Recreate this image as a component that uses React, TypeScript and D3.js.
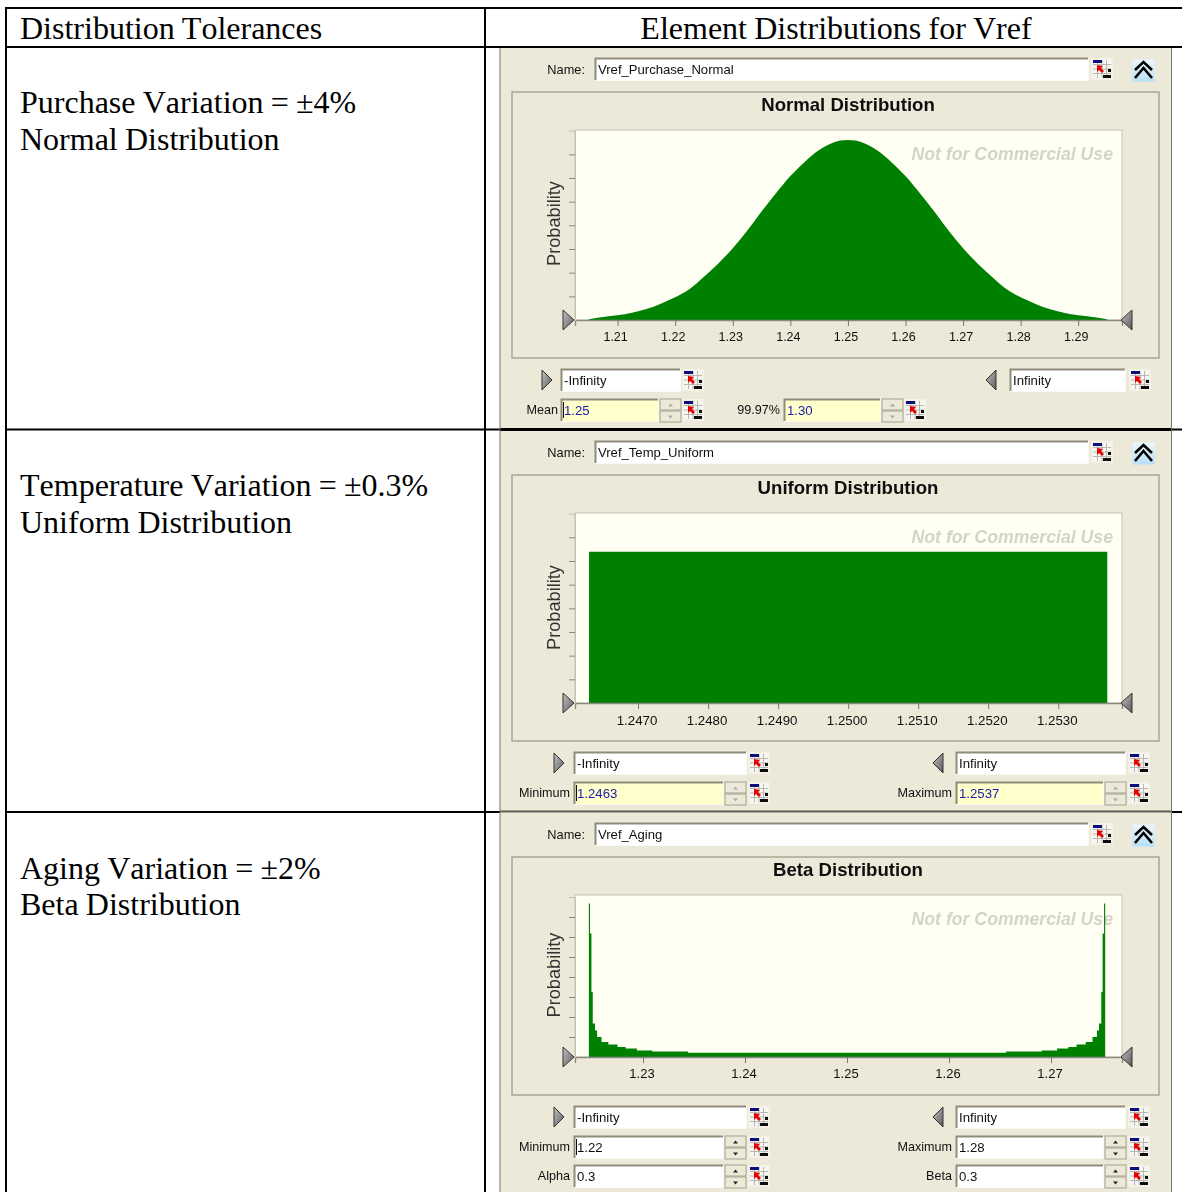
import React, { useEffect, useRef } from 'react';
import * as d3 from 'd3';

// Values. y is in units of the (unlabelled) probability ticks.
const normalX = [1.205, 1.2075, 1.21, 1.2125, 1.215, 1.2175, 1.22, 1.2225, 1.225, 1.2275, 1.23, 1.2325, 1.235, 1.2375, 1.24, 1.2425, 1.245, 1.2475, 1.25, 1.2525, 1.255, 1.2575, 1.26, 1.2625, 1.265, 1.2675, 1.27, 1.2725, 1.275, 1.2775, 1.28, 1.2825, 1.285, 1.2875, 1.29, 1.2925, 1.295];
const normalY = [0.03, 0.13, 0.2, 0.31, 0.46, 0.69, 0.96, 1.31, 1.83, 2.39, 3.03, 3.77, 4.58, 5.35, 6.08, 6.68, 7.18, 7.5, 7.6, 7.5, 7.18, 6.68, 6.08, 5.35, 4.58, 3.77, 3.03, 2.39, 1.83, 1.31, 0.96, 0.69, 0.46, 0.31, 0.2, 0.13, 0.03];
const uniformX = [1.2463, 1.2537];
const uniformY = [6.39, 6.39];
const betaX = [1.22469, 1.2248, 1.22494, 1.22507, 1.22529, 1.2255, 1.22593, 1.2266, 1.2275, 1.2283, 1.2294, 1.2309, 1.2344, 1.2656, 1.2691, 1.2706, 1.2717, 1.2725, 1.2734, 1.27407, 1.2745, 1.27471, 1.27493, 1.27506, 1.2752, 1.27531];
const betaY = [7.67, 6.17, 3.25, 1.67, 1.33, 1.0, 0.75, 0.62, 0.5, 0.42, 0.33, 0.28, 0.21, 0.28, 0.33, 0.42, 0.5, 0.62, 0.75, 1.0, 1.33, 1.67, 3.25, 6.17, 7.67, 7.67];

const normalTicks = [1.21, 1.22, 1.23, 1.24, 1.25, 1.26, 1.27, 1.28, 1.29];
const uniformTicks = [1.247, 1.248, 1.249, 1.25, 1.251, 1.252, 1.253];
const betaTicks = [1.23, 1.24, 1.25, 1.26, 1.27];
const probTicks = [1, 2, 3, 4, 5, 6, 7];

const leftLabels = [
  ['Purchase Variation = ±4%', 'Normal Distribution'],
  ['Temperature Variation = ±0.3%', 'Uniform Distribution'],
  ['Aging Variation = ±2%', 'Beta Distribution'],
];

const SANS = '"Liberation Sans", Arial, sans-serif';
const SERIF = '"Liberation Serif", "Times New Roman", serif';
const PANEL = '#ece9d8';
const GREEN = '#008000';

type Field = { label?: string; labelX?: number; text: string; x: number; w: number; y: number; yellow?: boolean; spin?: boolean; caret?: boolean; icon: number; arrow?: 'l' | 'r'; arrowX?: number };

const panels = [
  {
    top: 48, bottom: 428, name: 'Vref_Purchase_Normal', title: 'Normal Distribution', nameTop: 58,
    group: [92, 358], plot: [130, 320], titleY: 104, tickY: 337, unit: 23.67, probY: 223.5,
    xs: normalX, ys: normalY, ticks: normalTicks, fmt: '.2f', curve: d3.curveMonotoneX,
    tickFont: 12.5, tickDx: -2.5,
    domain: [1.2026, 1.2976],
    fields: [
      { text: '-Infinity', x: 561, w: 119, y: 369, icon: 682, arrow: 'r', arrowX: 542 },
      { text: 'Infinity', x: 1010, w: 115, y: 369, icon: 1129, arrow: 'l', arrowX: 986 },
      { label: 'Mean', labelX: 558, text: '1.25', x: 561, w: 97, y: 399, yellow: true, spin: true, caret: true, icon: 682 },
      { label: '99.97%', labelX: 780, text: '1.30', x: 784, w: 96, y: 399, yellow: true, spin: true, icon: 904 },
    ] as Field[],
  },
  {
    top: 431, bottom: 811, name: 'Vref_Temp_Uniform', title: 'Uniform Distribution', nameTop: 441,
    group: [475, 741], plot: [513, 703], titleY: 487, tickY: 720, unit: 23.67, probY: 607.5,
    xs: uniformX, ys: uniformY, ticks: uniformTicks, fmt: '.4f', curve: d3.curveLinear,
    tickFont: 13.3, tickDx: -1.5,
    domain: [1.2461, 1.25391],
    fields: [
      { text: '-Infinity', x: 574, w: 172, y: 752, icon: 748, arrow: 'r', arrowX: 554 },
      { text: 'Infinity', x: 956, w: 169, y: 752, icon: 1128, arrow: 'l', arrowX: 933 },
      { label: 'Minimum', labelX: 570, text: '1.2463', x: 574, w: 149, y: 782, yellow: true, spin: true, caret: true, icon: 748 },
      { label: 'Maximum', labelX: 952, text: '1.2537', x: 956, w: 147, y: 782, yellow: true, spin: true, icon: 1128 },
    ] as Field[],
  },
  {
    top: 813, bottom: 1192, name: 'Vref_Aging', title: 'Beta Distribution', nameTop: 823,
    group: [857, 1095], plot: [895, 1057], titleY: 869, tickY: 1073, unit: 20, probY: 975,
    xs: betaX, ys: betaY, ticks: betaTicks, fmt: '.2f', curve: d3.curveStepAfter,
    tickFont: 13, tickDx: -1.5,
    domain: [1.22333, 1.27696],
    fields: [
      { text: '-Infinity', x: 574, w: 172, y: 1106, icon: 748, arrow: 'r', arrowX: 554 },
      { text: 'Infinity', x: 956, w: 169, y: 1106, icon: 1128, arrow: 'l', arrowX: 933 },
      { label: 'Minimum', labelX: 570, text: '1.22', x: 574, w: 149, y: 1136, spin: true, caret: true, icon: 748 },
      { label: 'Maximum', labelX: 952, text: '1.28', x: 956, w: 147, y: 1136, spin: true, icon: 1128 },
      { label: 'Alpha', labelX: 570, text: '0.3', x: 574, w: 149, y: 1165, spin: true, icon: 748 },
      { label: 'Beta', labelX: 952, text: '0.3', x: 956, w: 147, y: 1165, spin: true, icon: 1128 },
    ] as Field[],
  },
];

type Sel = d3.Selection<SVGGElement, unknown, null, undefined>;

function sunken(g: Sel, x: number, y: number, w: number, h: number, fill: string) {
  g.append('rect').attr('x', x).attr('y', y).attr('width', w).attr('height', h).attr('fill', fill);
  g.append('path')
    .attr('d', `M${x + 0.5},${y + h}V${y + 0.5}H${x + w}`)
    .attr('fill', 'none').attr('stroke', '#8f8c7c').attr('stroke-width', 2);
  g.append('path')
    .attr('d', `M${x},${y + h + 0.5}H${x + w + 0.5}V${y}`)
    .attr('fill', 'none').attr('stroke', '#fbfaf4');
}

function linkIcon(g: Sel, x: number, y: number) {
  g.append('rect').attr('x', x).attr('y', y).attr('width', 22).attr('height', 22).attr('fill', '#f4f2e8');
  const ix = x + 2;
  const iy = y + 2;
  g.append('rect').attr('x', ix).attr('y', iy).attr('width', 18).attr('height', 18).attr('fill', '#f6f6f2');
  // little spreadsheet grid behind the arrow
  d3.range(1, 4).forEach((i) => {
    g.append('line').attr('x1', ix).attr('x2', ix + 18).attr('y1', iy + i * 4.5).attr('y2', iy + i * 4.5).attr('stroke', '#b8b8b0');
    g.append('line').attr('y1', iy).attr('y2', iy + 18).attr('x1', ix + i * 4.5).attr('x2', ix + i * 4.5).attr('stroke', '#b8b8b0');
  });
  g.append('rect').attr('x', ix).attr('y', iy).attr('width', 9).attr('height', 3).attr('fill', '#10107a');
  g.append('rect').attr('x', ix + 10).attr('y', iy + 15).attr('width', 8).attr('height', 3).attr('fill', '#111');
  g.append('rect').attr('x', ix + 15).attr('y', iy + 9).attr('width', 3).attr('height', 3).attr('fill', '#111');
  g.append('path').attr('d', `M${ix + 4},${iy + 5}l6,1l-2,2l3,3l-2,2l-3,-3l-2,2z`).attr('fill', '#e80000');
}

function spinner(g: Sel, x: number, y: number, enabled: boolean) {
  [0, 12].forEach((dy) => {
    g.append('rect').attr('x', x).attr('y', y + dy).attr('width', 21).attr('height', 11)
      .attr('fill', PANEL).attr('stroke', '#a5a28f');
    const a = y + dy + 5.5;
    g.append('path')
      .attr('d', dy === 0 ? `M${x + 8},${a + 2}h5l-2.5,-3z` : `M${x + 8},${a - 1}h5l-2.5,3z`)
      .attr('fill', enabled ? '#222' : '#aaa');
  });
}

function triangle(g: Sel, dir: 'l' | 'r', x: number, cy: number, w: number, h: number) {
  const tip = dir === 'r' ? x + w : x;
  const base = dir === 'r' ? x : x + w;
  g.append('path')
    .attr('d', `M${base},${cy - h / 2}L${tip},${cy}L${base},${cy + h / 2}Z`)
    .attr('fill', 'url(#tri)').attr('stroke', '#333').attr('stroke-width', 1);
}

function label(g: Sel, x: number, y: number, t: string, size: number, anchor = 'start', fill = '#111', weight = 'normal') {
  return g.append('text').attr('x', x).attr('y', y).attr('text-anchor', anchor)
    .attr('dominant-baseline', 'central').attr('font-family', SANS).attr('font-size', size)
    .attr('font-weight', weight).attr('fill', fill).text(t);
}

function drawPanel(g: Sel, p: (typeof panels)[number]) {
  g.append('rect').attr('x', 500).attr('y', p.top).attr('width', 671).attr('height', p.bottom - p.top).attr('fill', PANEL);

  // name row
  label(g, 585, p.nameTop + 11, 'Name:', 12.8, 'end');
  sunken(g, 595, p.nameTop, 493, 22, '#fff');
  label(g, 598, p.nameTop + 11, p.name, 13.1);
  linkIcon(g, 1091, p.nameTop);
  g.append('rect').attr('x', 1132).attr('y', p.nameTop + 1).attr('width', 23).attr('height', 23)
    .attr('fill', 'url(#btn)').attr('stroke', '#e8e8e0');
  const top = p.nameTop;
  g.append('path')
    .attr('d', `M1135,${top + 12}L1143.5,${top + 4}L1152,${top + 12}M1135,${top + 20}L1143.5,${top + 10}L1152,${top + 20}`)
    .attr('fill', 'none').attr('stroke', '#000').attr('stroke-width', 2.6);

  // group box and title
  g.append('rect').attr('x', 512).attr('y', p.group[0]).attr('width', 647).attr('height', p.group[1] - p.group[0])
    .attr('fill', 'none').attr('stroke', '#a5a28f').attr('stroke-width', 1.4);
  label(g, 848, p.titleY, p.title, 18.6, 'middle', '#111', 'bold');

  // chart
  const [plotTop, plotBottom] = p.plot;
  const x = d3.scaleLinear().domain(p.domain).range([575, 1122]);
  const y = d3.scaleLinear().domain([0, 8]).range([plotBottom, plotBottom - 8 * p.unit]);
  g.append('rect').attr('x', 575).attr('y', plotTop).attr('width', 547).attr('height', plotBottom - plotTop)
    .attr('fill', '#fffff3').attr('stroke', '#c4c2b2');

  label(g, 1113, plotTop + 24, 'Not for Commercial Use', 17.7, 'end', '#d4d4ca', 'bold').attr('font-style', 'italic');

  const points = d3.range(p.xs.length);
  const area = d3.area<number>().x((i) => x(p.xs[i])).y0(y(0)).y1((i) => y(p.ys[i])).curve(p.curve);
  g.append('path').attr('d', area(points)).attr('fill', GREEN);

  const xAxis = g.append('g').attr('transform', `translate(0,${plotBottom})`)
    .call(d3.axisBottom(x).tickValues(p.ticks).tickSize(6).tickFormat(d3.format(p.fmt) as any));
  xAxis.select('.domain').attr('stroke', '#8a8a80').attr('stroke-width', 1.4);
  xAxis.selectAll('.tick line').attr('stroke', '#77776e');
  xAxis.selectAll('.tick text')
    .attr('y', p.tickY - plotBottom).attr('dy', 0).attr('dx', p.tickDx).attr('dominant-baseline', 'central')
    .attr('font-family', SANS).attr('font-size', p.tickFont).attr('fill', '#111');

  const yAxis = g.append('g').attr('transform', 'translate(575,0)')
    .call(d3.axisLeft(y).tickValues(probTicks).tickSize(6).tickFormat(() => ''));
  yAxis.select('.domain').attr('stroke', '#c4c2b2');
  yAxis.selectAll('.tick line').attr('stroke', '#8a8a80');

  g.append('text').attr('transform', `translate(554,${p.probY}) rotate(-90)`).attr('text-anchor', 'middle')
    .attr('dominant-baseline', 'central').attr('font-family', SANS).attr('font-size', 18.2).attr('fill', '#333').text('Probability');

  triangle(g, 'r', 563, plotBottom, 11, 20);
  triangle(g, 'l', 1121, plotBottom, 11, 20);

  // input rows
  p.fields.forEach((f) => {
    const yellow = !!f.yellow;
    sunken(g, f.x, f.y, f.w, 22, yellow ? '#ffffcc' : '#fff');
    label(g, f.x + 3, f.y + 11, f.text, 13.2, 'start', yellow ? '#1c1ca8' : '#111');
    if (f.caret) g.append('rect').attr('x', f.x + 2).attr('y', f.y + 3).attr('width', 1).attr('height', 16).attr('fill', '#111');
    if (f.label) label(g, f.labelX as number, f.y + 11, f.label, 12.6, 'end');
    if (f.spin) spinner(g, f.x + f.w + 2, f.y, !yellow);
    linkIcon(g, f.icon, f.y);
    if (f.arrow) triangle(g, f.arrow, f.arrowX as number, f.y + 11, 10, 20);
  });
}

export default function App() {
  const ref = useRef<SVGSVGElement>(null);

  useEffect(() => {
    const svg = d3.select(ref.current as SVGSVGElement);
    svg.selectAll('*').remove();

    const defs = svg.append('defs');
    const tri = defs.append('linearGradient').attr('id', 'tri').attr('x1', 0).attr('y1', 0).attr('x2', 1).attr('y2', 1);
    tri.append('stop').attr('offset', 0).attr('stop-color', '#c4c4c4');
    tri.append('stop').attr('offset', 1).attr('stop-color', '#5a5a5a');
    const btn = defs.append('linearGradient').attr('id', 'btn').attr('x1', 0).attr('y1', 0).attr('x2', 0).attr('y2', 1);
    btn.append('stop').attr('offset', 0).attr('stop-color', '#eef8fd');
    btn.append('stop').attr('offset', 1).attr('stop-color', '#b4def6');
    // the panels are a pasted screenshot in the original, slightly soft
    defs.append('filter').attr('id', 'soft').append('feGaussianBlur').attr('stdDeviation', 0.35);

    const root = svg.append('g') as unknown as Sel;
    root.append('rect').attr('width', 1182).attr('height', 1192).attr('fill', '#fff');

    panels.forEach((p) => drawPanel(root.append('g').attr('filter', 'url(#soft)') as unknown as Sel, p));

    // table rules
    const rule = (x1: number, y1: number, x2: number, y2: number, w: number) =>
      root.append('line').attr('x1', x1).attr('y1', y1).attr('x2', x2).attr('y2', y2).attr('stroke', '#000').attr('stroke-width', w);
    rule(5, 8, 1182, 8, 2);
    rule(5, 47, 1182, 47, 2);
    rule(5, 429.5, 1182, 429.5, 2);
    rule(500, 429.5, 1171, 429.5, 3);
    rule(5, 812, 500, 812, 2);
    rule(1171, 812, 1182, 812, 2);
    rule(500, 811.5, 1171, 811.5, 2).attr('stroke', '#5c5a50');
    rule(6, 7, 6, 1192, 2);
    rule(485, 7, 485, 1192, 2);
    rule(500, 48, 500, 1192, 1).attr('stroke', '#77776c');
    rule(1171.5, 48, 1171.5, 1192, 1).attr('stroke', '#77776c');

    // left column text
    const serif = (x: number, y: number, t: string, anchor = 'start') =>
      root.append('text').attr('x', x).attr('y', y).attr('text-anchor', anchor)
        .attr('font-family', SERIF).attr('font-size', 32).attr('fill', '#000')
        .style('font-kerning', 'none').style('word-spacing', '-0.8px').text(t);
    serif(20, 39, 'Distribution Tolerances');
    serif(836, 39, 'Element Distributions for Vref', 'middle');
    const lineY = [[113, 150], [496, 533], [879, 915]];
    leftLabels.forEach((lines, i) => lines.forEach((t, j) => serif(20, lineY[i][j], t)));
  }, []);

  return (
    <svg ref={ref} width={1182} height={1192} style={{ position: 'absolute', left: 0, top: 0, display: 'block' }} />
  );
}
